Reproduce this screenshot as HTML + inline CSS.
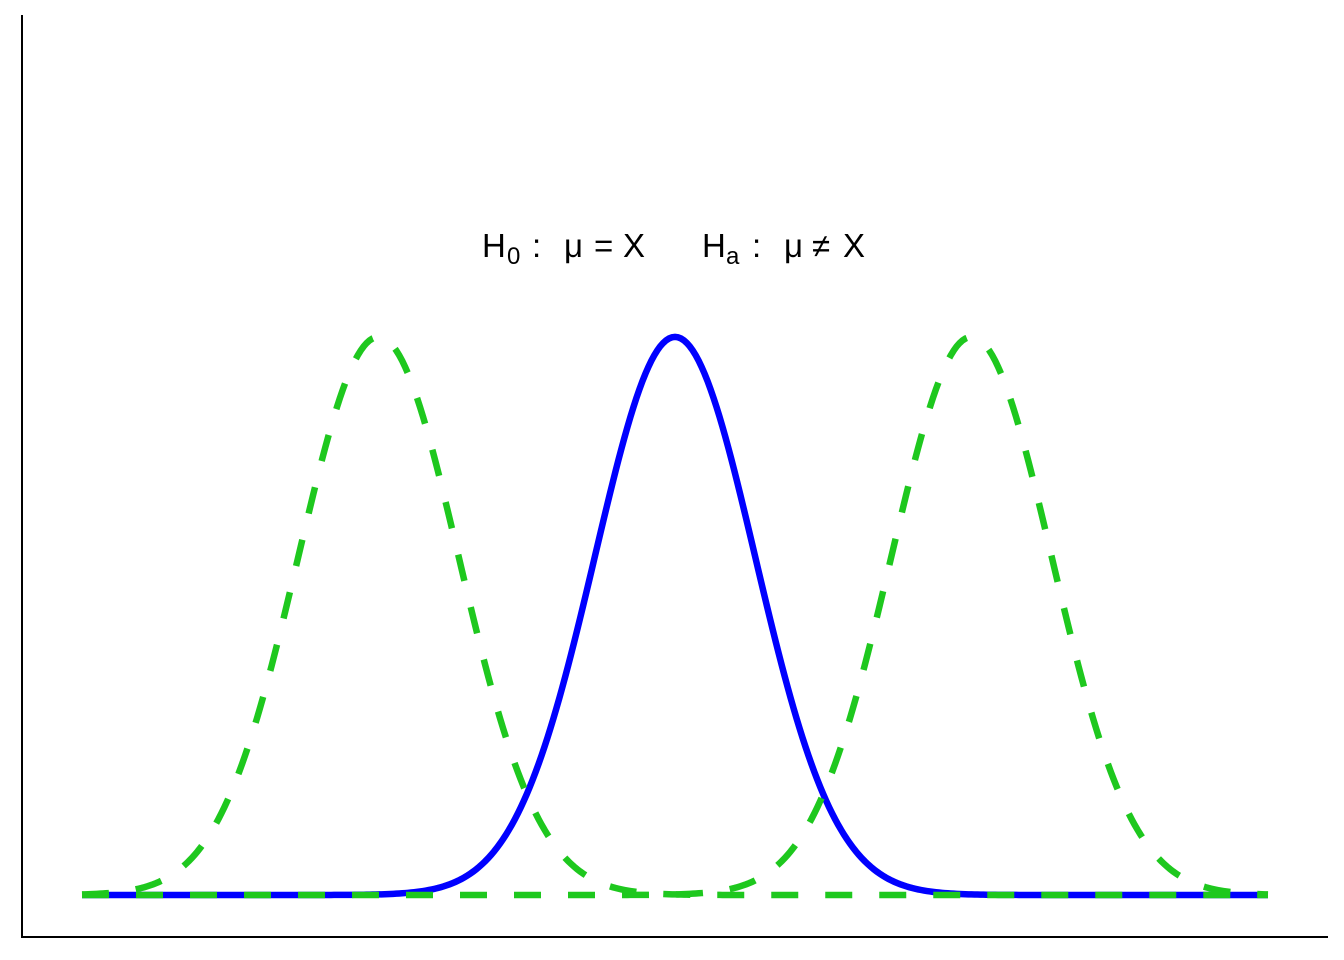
<!DOCTYPE html>
<html><head><meta charset="utf-8"><style>
html,body{margin:0;padding:0;background:#fff;}
svg{display:block;}
text{font-family:"Liberation Sans",sans-serif;}
</style></head><body>
<svg id="chart" width="1344" height="960">
<line x1="22" y1="15" x2="22" y2="938" stroke="#000" stroke-width="2"/>
<line x1="21" y1="937" x2="1328" y2="937" stroke="#000" stroke-width="2"/>
<g id="curves"></g>
<g font-size="33">
<text x="482" y="257">H</text>
<text x="507" y="264" font-size="24">0</text>
<text x="532" y="257">:</text>
<text x="564" y="257">μ</text>
<text x="594" y="257">=</text>
<text x="623" y="257">X</text>
<text x="702" y="257">H</text>
<text x="726" y="264" font-size="24">a</text>
<text x="752" y="257">:</text>
<text x="784" y="257">μ</text>
<text x="812" y="257">≠</text>
<text x="843" y="257">X</text>
</g>
</svg>
<script>
const seriesNames = ["null-curve", "alt-left-curve", "alt-right-curve"];
const seriesMeans = [0, -3.7, 3.7];
const seriesSd = [1, 1, 1];
const xDomain = [-7.4, 7.4];
const yMax = 0.3989;

const sx = v => 82 + (v - xDomain[0]) / (xDomain[1] - xDomain[0]) * (1268 - 82);
const sy = v => 895 - v / yMax * 558;
const g = document.getElementById('curves');
const ns = "http://www.w3.org/2000/svg";
[0, 1, 2].forEach(i => {
  const m = seriesMeans[i], s = seriesSd[i];
  let d = "";
  for (let k = 0; k <= 400; k++) {
    const x = xDomain[0] + (xDomain[1] - xDomain[0]) * k / 400;
    const y = Math.exp(-0.5 * ((x - m) / s) ** 2) / (s * Math.sqrt(2 * Math.PI));
    d += (k ? "L" : "M") + sx(x).toFixed(2) + "," + sy(y).toFixed(2);
  }
  const p = document.createElementNS(ns, "path");
  p.setAttribute("d", d);
  p.setAttribute("fill", "none");
  p.setAttribute("stroke-width", "6.5");
  if (i === 0) {
    p.setAttribute("stroke", "#0000ff");
  } else {
    p.setAttribute("stroke", "#1ec81e");
    p.setAttribute("stroke-dasharray", "27 27");
  }
  
  
  g.appendChild(p);
});
</script>
</body></html>
